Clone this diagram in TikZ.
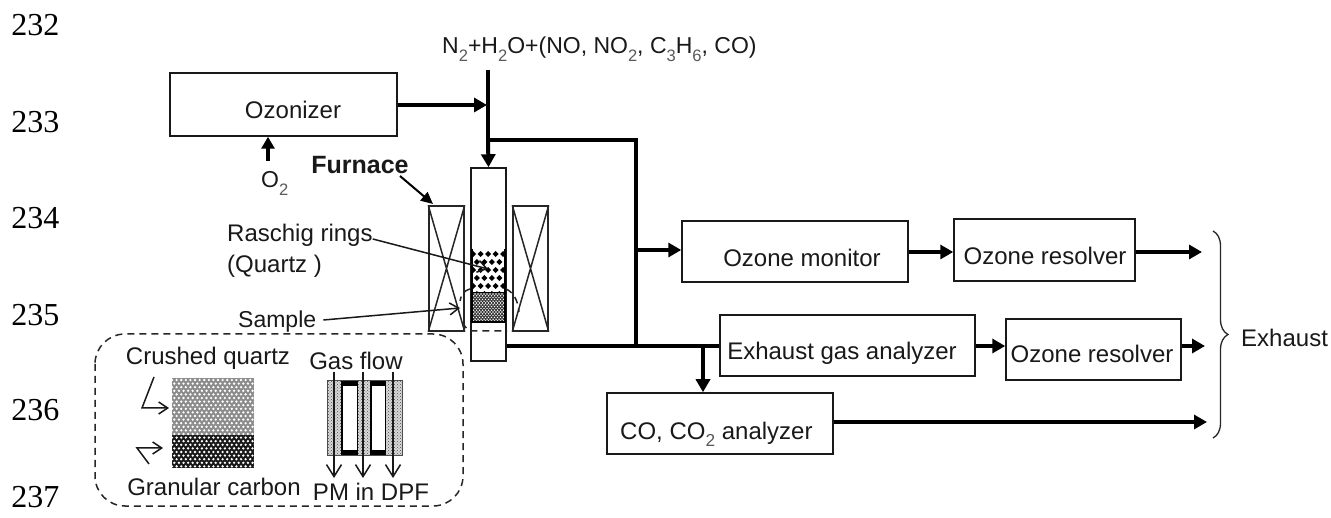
\documentclass[tikz,border=0pt]{standalone}
\usepackage{fontspec}
\setmainfont{Liberation Sans}
\newfontfamily\linenofont{Liberation Serif}
\usetikzlibrary{arrows.meta,patterns,decorations.pathreplacing,calc}
\newcommand{\lowidx}[1]{\raisebox{-0.32em}{\scalebox{0.72}{\textcolor{black!65}{#1}}}}
\tikzset{
  blockbox/.style={draw=black!90,line width=1.5pt,fill=white,inner sep=0pt},
  lbl/.style={inner sep=0pt,font=\fontsize{24}{28}\selectfont,align=left,text=black!90},
  lineno/.style={inner sep=0pt,font=\linenofont\fontsize{32}{36}\selectfont},
  pipe/.style={line width=4pt,draw=black},
  flow/.style={line width=4pt,draw=black,-{Triangle[length=13pt,width=14pt]}},
  flowthin/.style={line width=3.5pt,draw=black,-{Triangle[length=12pt,width=13pt]}},
  leader/.style={line width=1.5pt,draw=black!90,-{Straight Barb[length=9pt,width=12pt,line width=1.5pt]}},
  bigbarb/.style={line width=1.5pt,draw=black!90,-{Straight Barb[length=12pt,width=15pt,line width=1.5pt]}},
  dashbox/.style={line width=1.5pt,draw=black!85,dash pattern=on 7pt off 5pt},
  heater/.style={draw=black!85,line width=1.5pt},
}
\begin{document}
\begin{tikzpicture}[x=1pt,y=-1pt]
\useasboundingbox (0,0) rectangle (1331,518);
\fill[white] (0,0) rectangle (1331,518);
% line numbers
\foreach \n/\yy in {232/25,233/122,234/218,235/315,236/410,237/497}
  \node[lineno] (ln\n) at (35.5,\yy) {\n};

% reactor parts
\node[blockbox,minimum width=35pt,minimum height=193pt] (tube) at (488.5,264.5) {};
\node[heater,inner sep=0pt,minimum width=35pt,minimum height=125pt] (lf) at (446.5,268.5) {};
\node[heater,inner sep=0pt,minimum width=35pt,minimum height=125pt] (rf) at (530.5,268.5) {};
\draw[heater] (lf.north west)--(lf.south east) (lf.north east)--(lf.south west);
\draw[heater] (rf.north west)--(rf.south east) (rf.north east)--(rf.south west);
% packing
\begin{scope}
\clip (472,249) rectangle (505,293);
\fill[white] (472,249) rectangle (505,293);
\foreach \i in {0,...,5} \foreach \j in {0,...,5}{
  \pgfmathsetmacro{\xa}{473+\i*7.5+mod(\j,2)*3.75}
  \pgfmathsetmacro{\ya}{254+\j*8}
  \fill[black] (\xa,\ya-3)--(\xa+3,\ya)--(\xa,\ya+3)--(\xa-3,\ya)--cycle;
}
\end{scope}
\draw[line width=1.5pt,black] (472,249)--(472,293)--(505,293)--(505,249);
\begin{scope}
\clip (472,293) rectangle (505,322);
\fill[black!80] (472,293) rectangle (505,322);
\foreach \i in {0,...,11} \foreach \j in {0,...,16}{
  \pgfmathsetmacro{\xa}{472+\i*3+mod(\j,2)*1.5}
  \pgfmathsetmacro{\ya}{294+\j*1.8}
  \fill[white] (\xa,\ya) circle (0.8pt);
}
\end{scope}
\draw[line width=1.5pt,black] (472,293)--(472,322)--(505,322)--(505,293);

% zoom outline
\draw[dashbox] (470,289) .. controls (463,291) and (461,296) .. (460,301);
\draw[dashbox] (506,289) .. controls (513,292) and (518,300) .. (519,312);
\draw[dashbox] (463,322) .. controls (465,328) and (468,331) .. (472,331) -- (507,331);

% blocks
\node[blockbox,minimum width=227pt,minimum height=63pt] (oz) at (283.5,104.5) {};
\node[lbl] (ozt) at (293,110) {Ozonizer};
\node[blockbox,minimum width=226pt,minimum height=61pt] (mon) at (795,251.5) {};
\node[lbl] (mont) at (802,258) {Ozone monitor};
\node[blockbox,minimum width=181pt,minimum height=62pt] (res1) at (1044.5,250) {};
\node[lbl] (res1t) at (1045,256) {Ozone resolver};
\node[blockbox,minimum width=255pt,minimum height=61pt] (exh) at (847.5,345.5) {};
\node[lbl] (exht) at (842,353) {Exhaust gas analyzer};
\node[blockbox,minimum width=175pt,minimum height=61pt] (res2) at (1093.5,349.5) {};
\node[lbl] (res2t) at (1092,354) {Ozone resolver};
\node[blockbox,minimum width=226pt,minimum height=61pt] (coa) at (720,423.5) {};
\node[lbl,anchor=base west] (coat) at (620,439) {CO, CO\lowidx{2} analyzer};

% coordinates of the pipework
\coordinate (feed) at (488,70);
\coordinate (jOz) at (487,105);
\coordinate (jTop) at (488,140);
\coordinate (cTop) at (636,140);
\coordinate (cBot) at (636,346);
\coordinate (jMon) at (636,250);
\coordinate (jCo) at (703,346);
\coordinate (o1) at (1202,252);
\coordinate (o2) at (1205,346);
\coordinate (o3) at (1207,422);

\draw[pipe] (feed)--(jTop);
\draw[flow] (jTop)--(tube.north);
\draw[flow] (oz.east|-jOz)--(jOz);
\draw[line width=4pt,line join=miter] (jTop)--(cTop)--(cBot);
\draw[pipe] (tube.east|-cBot)--(exh.west|-cBot);
\draw[flow] (jMon)--(mon.west|-jMon);
\draw[flow] (mon.east|-o1)--(res1.west|-o1);
\draw[flow] (res1.east|-o1)--(o1);
\draw[flow] (exh.east|-o2)--(res2.west|-o2);
\draw[flow] (res2.east|-o2)--(o2);
\draw[flow] (jCo)--(jCo|-coa.north);
\draw[flow] (coa.east|-o3)--(o3);

% O2
\node[lbl,anchor=base west,font=\fontsize{23}{27}\selectfont] (o2t) at (261,188) {O\lowidx{2}};
\coordinate (o2s) at (268,161);
\draw[flowthin] (o2s)--(o2s|-oz.south);

% top label
\node[lbl,anchor=base west,font=\fontsize{23}{27}\selectfont] (feedt) at (442,54) {N\lowidx{2}+H\lowidx{2}O+(NO, NO\lowidx{2}, C\lowidx{3}H\lowidx{6}, CO)};

% furnace
\node[lbl,font=\bfseries\fontsize{25}{29}\selectfont] (fur) at (360,165) {Furnace};
\coordinate (furs) at (400,176);
\coordinate (fure) at (433,204);
\draw[line width=2pt,-{Triangle[length=12pt,width=11pt]}] (furs)--(fure);

% raschig
\node[lbl,anchor=west] (ras) at (227,235) {Raschig rings};
\node[lbl,anchor=west] (qua) at (227,266) {(Quartz )};
\coordinate (rase) at (488,269);
\draw[leader] (ras.east)+(0,4) -- (rase);
\node[lbl,anchor=west,font=\fontsize{23}{27}\selectfont] (sam) at (238,322) {Sample};
\coordinate (same) at (460,308);
\draw[leader] (sam.east)+(7,-2) -- (same);

% inset
\draw[dashbox,rounded corners=30pt] (95,334) rectangle (463,506);
\node[lbl] (cq) at (208,358) {Crushed quartz};
\node[lbl] (gf) at (356,361) {Gas flow};
\node[lbl] (gc) at (214,487) {Granular carbon};
\node[lbl] (pm) at (371,492) {PM in DPF};

\begin{scope}
\clip (172,378) rectangle (254,468);
\fill[black!45] (172,378) rectangle (254,435);
\fill[black!90] (172,435) rectangle (254,468);
\foreach \i in {0,...,18} \foreach \j in {0,...,25}{
  \pgfmathsetmacro{\xa}{172+\i*4.6+mod(\j,2)*2.3}
  \pgfmathsetmacro{\ya}{380+\j*3.6}
  \fill[white] (\xa,\ya) circle (1.3pt);
}
\end{scope}
\coordinate (cqa) at (154,377);
\coordinate (cqb) at (142,408);
\coordinate (cqc) at (169,408);
\draw[leader,line join=miter] (cqa)--(cqb)--(cqc);
\coordinate (gca) at (149,464);
\coordinate (gcb) at (137,448);
\coordinate (gcc) at (163,448);
\draw[leader,line join=miter] (gca)--(gcb)--(gcc);

% DPF
\fill[black!15] (327,381) rectangle (402,456);
\fill[pattern=crosshatch dots,pattern color=black!70] (327,381) rectangle (402,456);
\fill[black] (341,381) rectangle (358,456);
\fill[black] (370,381) rectangle (386,456);
\fill[white] (342.5,386) rectangle (356.5,450);
\fill[white] (371.5,386) rectangle (384.5,450);
\draw[line width=1pt,black!70] (327,381) rectangle (402,456);
\foreach \k/\xx in {a/334,b/363,c/393}{
  \coordinate (fs\k) at (\xx,372);
  \coordinate (fe\k) at (\xx,478);
  \draw[bigbarb] (fs\k)--(fe\k);
}

% brace & exhaust
\coordinate (brt) at (1213,231);
\coordinate (brb) at (1213,438);
\draw[line width=1.3pt,black!85,decorate,decoration={brace,amplitude=15pt}] (brt)--(brb);
\node[lbl,anchor=west] (ex) at (1241,338) {Exhaust};
\end{tikzpicture}
\end{document}
